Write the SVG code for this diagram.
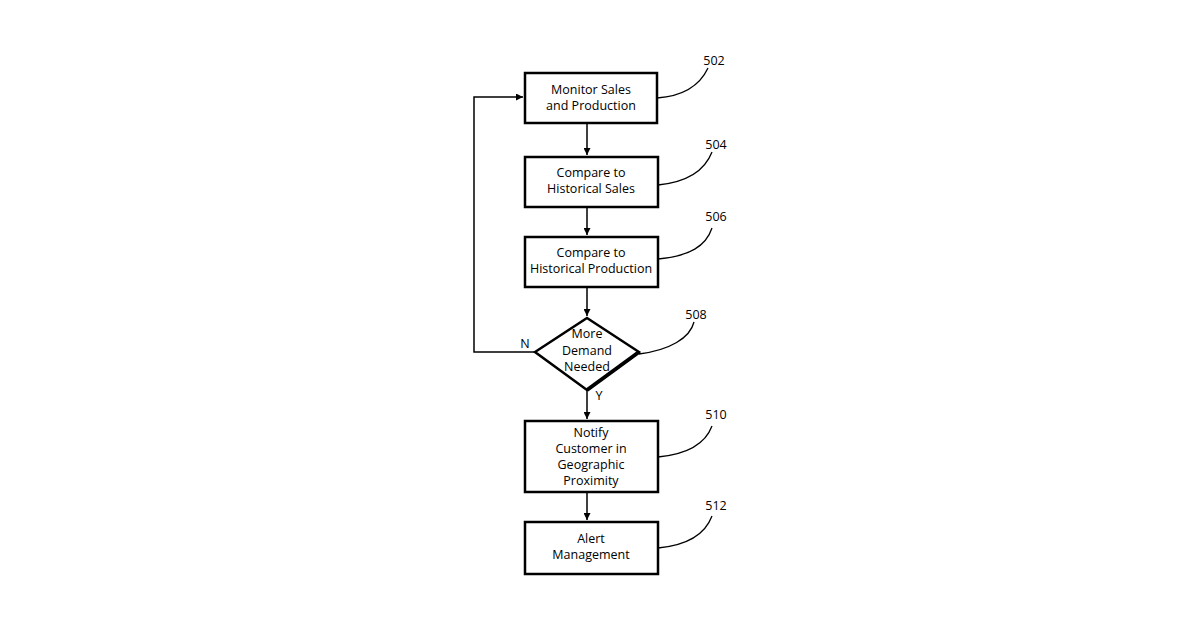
<svg xmlns="http://www.w3.org/2000/svg" width="1200" height="630" viewBox="0 0 1200 630">
<style>
.b{fill:#fff;stroke:#000;stroke-width:2.5}
.t{font-family:"Open Sans","Liberation Sans",sans-serif;font-size:12.5px;text-anchor:middle;fill:#000}
.l{fill:none;stroke:#000;stroke-width:1.3}
.c{fill:none;stroke:#000;stroke-width:1.5}
</style>
<defs><marker id="a" viewBox="0 0 10 10" refX="10" refY="5" markerWidth="7" markerHeight="7" orient="auto" markerUnits="userSpaceOnUse"><path d="M0,0L10,5L0,10z"/></marker></defs>
<rect width="1200" height="630" fill="#fff"/>
<g id="connectors">
<path class="c" d="M587,123V155" marker-end="url(#a)"/>
<path class="c" d="M587,207V235" marker-end="url(#a)"/>
<path class="c" d="M587,287V316" marker-end="url(#a)"/>
<path class="c" d="M587,390V419" marker-end="url(#a)"/>
<path class="c" d="M587,492V520" marker-end="url(#a)"/>
<path class="c" d="M535,352H474V97H523" marker-end="url(#a)"/>
<text class="t" x="525" y="348">N</text>
<text class="t" x="599" y="400">Y</text>
</g>
<g id="n502"><rect class="b" x="525" y="73" width="132" height="50"/><text class="t" x="591" y="94">Monitor Sales</text><text class="t" x="591" y="110">and Production</text><path class="l" d="M657,98C685,96 700,85 708,68"/><text class="t" x="714" y="65">502</text></g>
<g id="n504"><rect class="b" x="525" y="157" width="133" height="50"/><text class="t" x="591" y="177">Compare to</text><text class="t" x="591" y="193">Historical Sales</text><path class="l" d="M658,185C688,182 705,170 712,152"/><text class="t" x="716" y="149">504</text></g>
<g id="n506"><rect class="b" x="525" y="237" width="133" height="50"/><text class="t" x="591" y="257">Compare to</text><text class="t" x="591" y="273">Historical Production</text><path class="l" d="M658,259C690,256 706,246 712,228"/><text class="t" x="716" y="221">506</text></g>
<g id="n508"><path class="b" d="M587,318L639,352L587,390L535,352Z"/><path d="M639,352L587,390" stroke="#000" stroke-width="4"/><text class="t" x="587" y="338">More</text><text class="t" x="587" y="355">Demand</text><text class="t" x="587" y="371">Needed</text><path class="l" d="M639,354C670,350 690,338 694,322"/><text class="t" x="696" y="319">508</text></g>
<g id="n510"><rect class="b" x="525" y="421" width="133" height="71"/><text class="t" x="591" y="437">Notify</text><text class="t" x="591" y="453">Customer in</text><text class="t" x="591" y="469">Geographic</text><text class="t" x="591" y="485">Proximity</text><path class="l" d="M658,457C690,454 706,442 712,426"/><text class="t" x="716" y="419">510</text></g>
<g id="n512"><rect class="b" x="525" y="522" width="133" height="52"/><text class="t" x="591" y="543">Alert</text><text class="t" x="591" y="559">Management</text><path class="l" d="M658,548C690,545 706,532 712,516"/><text class="t" x="716" y="510">512</text></g>
</svg>
